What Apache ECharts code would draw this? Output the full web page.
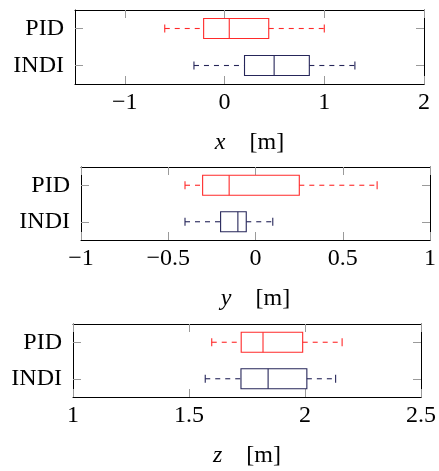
<!DOCTYPE html>
<html><head><meta charset="utf-8">
<script src="https://cdn.jsdelivr.net/npm/echarts@6/dist/echarts.min.js"></script>
<style>html,body{margin:0;padding:0;background:#fff}#c{width:439px;height:471px}</style>
</head><body><div id="c"></div>
<script>
// Data: [min, Q1, median, Q3, max] per controller
const categories = ['INDI', 'PID'];
const xPID = [-0.60, -0.21, 0.047, 0.443, 1.00];
const xINDI = [-0.307, 0.20, 0.497, 0.85, 1.307];
const yPID = [-0.404, -0.303, -0.151, 0.251, 0.697];
const yINDI = [-0.404, -0.20, -0.101, -0.053, 0.099];
const zPID = [1.598, 1.725, 1.819, 1.99, 2.16];
const zINDI = [1.57, 1.724, 1.841, 2.008, 2.132];
const xTicks = [-1, 0, 1, 2];
const yTicks = [-1, -0.5, 0, 0.5, 1];
const zTicks = [1, 1.5, 2, 2.5];
const axisNames = ['x', 'y', 'z'];

const FONT = "'Times New Roman', 'Liberation Serif', Tinos, serif";
const FS = 24;
const colors = { PID: '#ff2a2a', INDI: '#26265a' };
const fmt = v => (v < 0 ? '\u2212' : '') + Math.abs(v);

const grids = [
  { left: 75, width: 349, top: 10, height: 74 },
  { left: 81, width: 350, top: 167, height: 73 },
  { left: 73, width: 350, top: 324, height: 73 }
];
const ranges = [[-1.5, 2, xTicks], [-1, 1, yTicks], [1, 2.5, zTicks]];
const datasets = [[xINDI, xPID], [yINDI, yPID], [zINDI, zPID]];

const xAxes = [], yAxes = [], series = [];
const tickStyle = { show: true, inside: true, length: 8, lineStyle: { color: '#9a9a9a', width: 1 } };
const lineStyle = { show: true, onZero: false, lineStyle: { color: '#000', width: 1 } };

ranges.forEach((r, i) => {
  const [mn, mx, ticks] = r;
  xAxes.push({
    type: 'value', gridIndex: i, position: 'bottom', min: mn, max: mx,
    axisLine: lineStyle, splitLine: { show: false },
    axisTick: Object.assign({ customValues: ticks }, tickStyle),
    axisLabel: { customValues: ticks, formatter: fmt, fontFamily: FONT, fontSize: FS, color: '#000', margin: 7 },
    name: '{i|' + axisNames[i] + '}{s|}{n|[m]}', nameLocation: 'middle', nameGap: 47,
    nameTextStyle: {
      rich: {
        i: { fontFamily: FONT, fontStyle: 'italic', fontSize: FS, color: '#000' },
        s: { width: 24 },
        n: { fontFamily: FONT, fontSize: FS, color: '#000' }
      }
    }
  });
  xAxes.push({
    type: 'value', gridIndex: i, position: 'top', min: mn, max: mx,
    axisLine: lineStyle, splitLine: { show: false },
    axisTick: Object.assign({ customValues: ticks }, tickStyle),
    axisLabel: { show: false, customValues: ticks }
  });
  yAxes.push({
    type: 'category', gridIndex: i, position: 'left', data: categories,
    axisLine: lineStyle,
    axisTick: Object.assign({ alignWithLabel: true }, tickStyle),
    axisLabel: { fontFamily: FONT, fontSize: FS, color: '#000', margin: 11 }
  });
  yAxes.push({
    type: 'category', gridIndex: i, position: 'right', data: categories,
    axisLine: lineStyle,
    axisTick: Object.assign({ alignWithLabel: true }, tickStyle),
    axisLabel: { show: false }
  });
  const data = datasets[i].map((d, k) => [k].concat(d));
  series.push({
    type: 'custom', xAxisIndex: i * 2, yAxisIndex: i * 2,
    encode: { x: [1, 2, 3, 4, 5], y: 0 },
    data: data,
    renderItem: function (params, api) {
      const cat = api.value(0);
      const c = cat === 1 ? colors.PID : colors.INDI;
      const p = [1, 2, 3, 4, 5].map(j => api.coord([api.value(j), cat]));
      const yc = p[0][1];
      const hb = 10, hc = 4;
      const solid = { stroke: c, lineWidth: 1.1, fill: null };
      const dashed = { stroke: c, lineWidth: 1.1, lineDash: [5, 5], fill: null };
      return {
        type: 'group',
        children: [
          { type: 'rect', shape: { x: p[1][0], y: yc - hb, width: p[3][0] - p[1][0], height: 2 * hb }, style: solid },
          { type: 'line', shape: { x1: p[2][0], y1: yc - hb, x2: p[2][0], y2: yc + hb }, style: solid },
          { type: 'line', shape: { x1: p[0][0], y1: yc, x2: p[1][0], y2: yc }, style: dashed },
          { type: 'line', shape: { x1: p[3][0], y1: yc, x2: p[4][0], y2: yc }, style: dashed },
          { type: 'line', shape: { x1: p[0][0], y1: yc - hc, x2: p[0][0], y2: yc + hc }, style: solid },
          { type: 'line', shape: { x1: p[4][0], y1: yc - hc, x2: p[4][0], y2: yc + hc }, style: solid }
        ]
      };
    }
  });
});

const chart = echarts.init(document.getElementById('c'), null, { renderer: 'canvas' });
chart.setOption({
  animation: false,
  backgroundColor: '#fff',
  grid: grids,
  xAxis: xAxes,
  yAxis: yAxes,
  series: series
});
</script>
</body></html>
